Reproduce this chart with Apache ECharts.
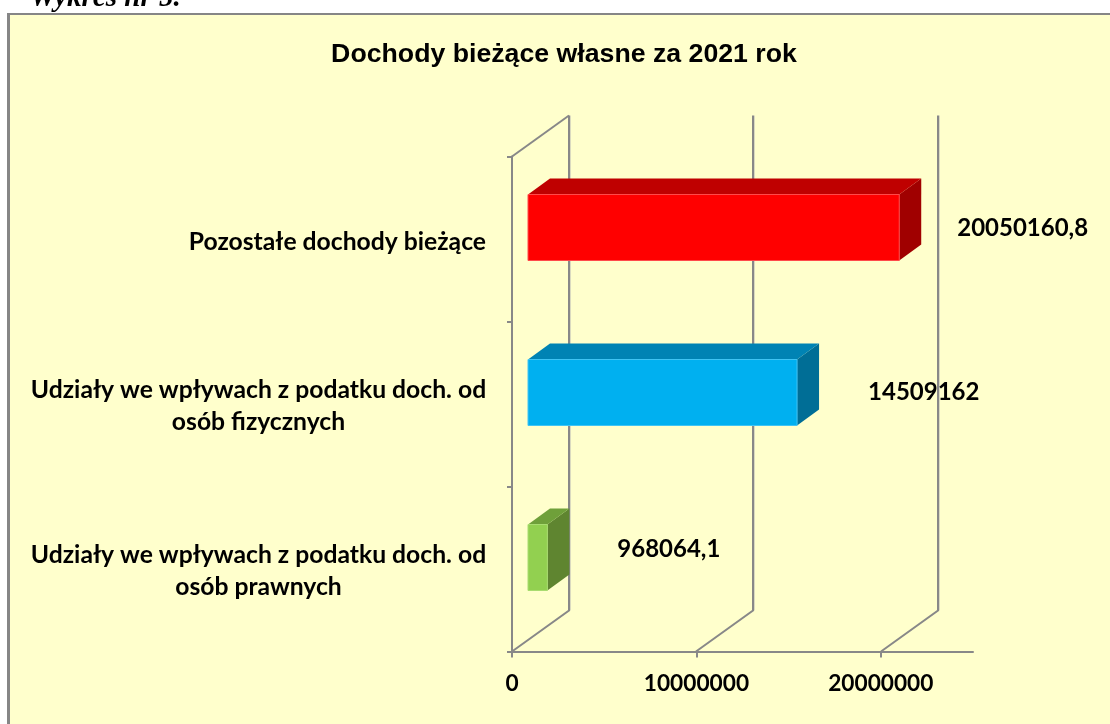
<!DOCTYPE html>
<html><head><meta charset="utf-8">
<style>html,body{margin:0;padding:0;background:#fff}#c{width:1110px;height:724px}</style>
<script src="https://cdn.jsdelivr.net/npm/echarts@6/dist/echarts.min.js"></script>
</head><body><div id="c"></div>
<script>
const categories = [
  'Udziały we wpływach z podatku doch. od\nosób prawnych',
  'Udziały we wpływach z podatku doch. od\nosób fizycznych',
  'Pozostałe dochody bieżące'
];
const values = [968064.1, 14509162, 20050160.8];
const xTicks = [0, 10000000, 20000000];
const chartTitle = 'Dochody bieżące własne za 2021 rok';
const headerText = 'Wykres nr 5.';

const faceColors = [
  {front:'#92D050', top:'#6FA03A', side:'#5F8530', edge:'#A8DC70'},
  {front:'#00B0F0', top:'#0083B4', side:'#006E96', edge:'#40C4F4'},
  {front:'#FF0000', top:'#BF0000', side:'#A00000', edge:'#FF4A4A'}
];
const labelNudge = [[70, -8], [71, 0], [58, 1]];
const GRID = '#888888', LABEL_FONT = 'Lato';
const DX = 22, DY = -16, WX = 57, WY = -41;

const chart = echarts.init(document.getElementById('c'));
chart.setOption({
  animation: false,
  backgroundColor: '#ffffff',
  graphic: [
    {type:'rect', silent:true, z:-20, shape:{x:7,y:13,width:1103,height:711}, style:{fill:'#868686'}},
    {type:'rect', silent:true, z:-19, shape:{x:10,y:15,width:1100,height:709}, style:{fill:'#FFFFCC'}}
  ],
  title: [
    {text: chartTitle, left: 559, top: 36, textAlign:'center',
     textStyle:{fontFamily:'Liberation Sans', fontWeight:'bold', fontSize:26.7, color:'#000'}},
    {text: headerText, left: 25, top: -21,
     textStyle:{fontFamily:'Liberation Serif', fontWeight:'bold', fontStyle:'italic', fontSize:29, color:'#000'}}
  ],
  grid: {left:512, top:156.5, width:461, height:495},
  xAxis: {
    type:'value', min:0, max:25000000, interval:5000000,
    splitLine:{show:false},
    axisLine:{show:true, lineStyle:{color:GRID, width:2}},
    axisTick:{show:true, length:6, customValues:xTicks, lineStyle:{color:GRID, width:2}},
    axisLabel:{customValues:xTicks, margin:21, color:'#000', fontFamily:LABEL_FONT, fontWeight:'bold', fontSize:22.7,
      formatter: v => String(v)}
  },
  yAxis: {
    type:'category', data:categories,
    splitLine:{show:false},
    axisLine:{show:true, onZero:false, lineStyle:{color:GRID, width:2}},
    axisTick:{show:true, length:5, lineStyle:{color:GRID, width:2}},
    axisLabel:{
      margin:26, interval:0, align:'right', color:'#000', padding:[4,0,0,0],
      formatter: s => s.indexOf('\n') >= 0
        ? s.split('\n').map(t => '{w|' + t + '}').join('\n')
        : '{s|' + s + '}',
      rich:{
        w:{width:455, align:'center', lineHeight:32, color:'#000', fontFamily:LABEL_FONT, fontWeight:'bold', fontSize:24.7},
        s:{padding:[2,0,0,0], color:'#000', fontFamily:LABEL_FONT, fontWeight:'bold', fontSize:24.7}
      }
    }
  },
  series: [
    {
      type:'custom', silent:true, z:1, coordinateSystem:'cartesian2d',
      data: xTicks.map(v => [v, 0]),
      renderItem(params, api) {
        const x = Math.round(api.coord([api.value(0), 0])[0]);
        const cs = params.coordSys, top = cs.y, bottom = cs.y + cs.height;
        const kids = [
          {type:'line', shape:{x1:x+WX+1.5, y1:top+WY, x2:x+WX+1.5, y2:bottom+WY}, style:{stroke:'#DADAC0', lineWidth:1}},
          {type:'polyline', shape:{points:[[x,bottom],[x+WX,bottom+WY],[x+WX,top+WY]]},
           style:{stroke:GRID, lineWidth:2, fill:null}}
        ];
        if (params.dataIndex === 0) kids.push({type:'line', shape:{x1:x, y1:top, x2:x+WX, y2:top+WY}, style:{stroke:GRID, lineWidth:2}});
        return {type:'group', children:kids};
      }
    },
    {
      type:'custom', silent:true, z:2, coordinateSystem:'cartesian2d',
      data: values.map((v, i) => [v, i]),
      renderItem(params, api) {
        const i = api.value(1), v = api.value(0);
        const cy = api.coord([0, i])[1];
        const x0 = api.coord([0, i])[0] + 16, x1 = api.coord([v, i])[0] + 17.5;
        const h = api.size([0, 1])[1] * 0.4;
        const y0 = cy - 12 - h / 2 + 0.5, y1 = y0 + h;
        const c = faceColors[i], nudge = labelNudge[i];
        return {type:'group', children:[
          {type:'polygon', shape:{points:[[x1,y0],[x1+DX,y0+DY],[x1+DX,y1+DY],[x1,y1]]}, style:{fill:c.side}},
          {type:'polygon', shape:{points:[[x0,y0],[x0+DX,y0+DY],[x1+DX,y0+DY],[x1,y0]]}, style:{fill:c.top}},
          {type:'rect', shape:{x:x0,y:y0,width:x1-x0,height:h}, style:{fill:c.front, stroke:c.edge, lineWidth:1}},
          {type:'text', style:{x:x1+nudge[0], y:cy+nudge[1]-12, text:String(v).replace('.', ','), textAlign:'left', textVerticalAlign:'middle',
            fill:'#000', font:'bold 24px ' + LABEL_FONT}}
        ]};
      }
    }
  ]
});
</script></body></html>
